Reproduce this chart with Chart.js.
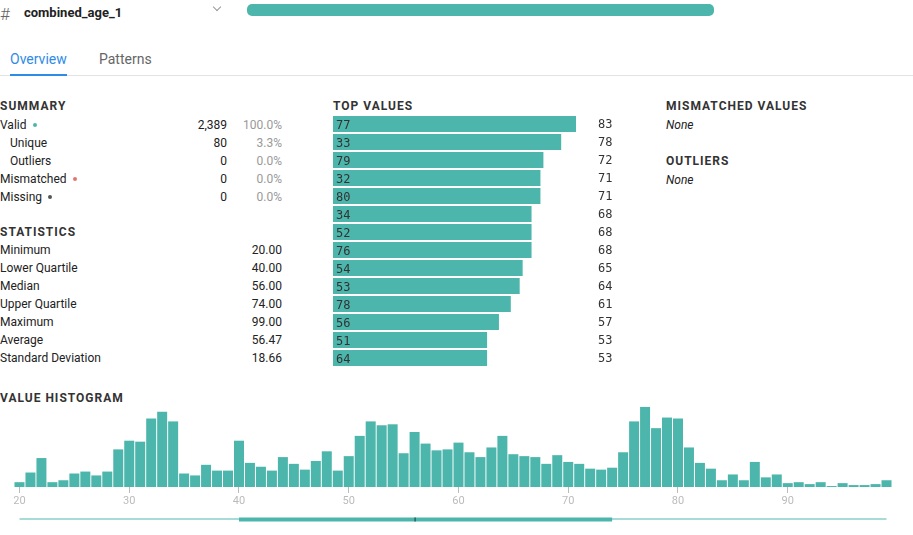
<!DOCTYPE html>
<html><head><meta charset="utf-8">
<script src="https://cdn.jsdelivr.net/npm/chart.js@4.4.0/dist/chart.umd.min.js"></script>
<style>
body{margin:0;width:913px;height:535px;overflow:hidden;background:#fff;font-family:Roboto,sans-serif;color:#222;position:relative}
.a{position:absolute;white-space:nowrap;line-height:18px;font-size:12px}
.h{font-weight:bold;letter-spacing:1px;color:#333}
.r{text-align:right}
.g{color:#999}
.dot{display:inline-block;width:4px;height:4px;border-radius:50%;margin-left:6px;vertical-align:middle;position:relative;top:-1px}
canvas{display:block}
</style>
</head><body>
<div id="root"></div>
<div style="position:absolute;left:333px;top:115px;width:290px;height:252px"><canvas id="top"></canvas></div>
<div style="position:absolute;left:14px;top:400px;width:878px;height:132px"><canvas id="hist"></canvas></div>
<script>
// ---- data ----
const columnName = 'combined_age_1';
const tabs = ['Overview', 'Patterns'];
const summaryLabels = ['Valid', 'Unique', 'Outliers', 'Mismatched', 'Missing'];
const summaryCounts = [2389, 80, 0, 0, 0];
const summaryPercents = ['100.0%', '3.3%', '0.0%', '0.0%', '0.0%'];
const statLabels = ['Minimum', 'Lower Quartile', 'Median', 'Upper Quartile', 'Maximum', 'Average', 'Standard Deviation'];
const statValues = [20.00, 40.00, 56.00, 74.00, 99.00, 56.47, 18.66];
const topValueLabels = ['77', '33', '79', '32', '80', '34', '52', '76', '54', '53', '78', '56', '51', '64'];
const topValueCounts = [83, 78, 72, 71, 71, 68, 68, 68, 65, 64, 61, 57, 53, 53];
const histValues = [20,21,22,23,24,25,26,27,28,29,30,31,32,33,34,35,36,37,38,39,40,41,42,43,44,45,46,47,48,49,50,51,52,53,54,55,56,57,58,59,60,61,62,63,64,65,66,67,68,69,70,71,72,73,74,75,76,77,78,79,80,81,82,83,84,85,86,87,88,89,90,91,92,93,94,95,96,97,98,99];
const histCounts = [5,15,30,5,7,14,16,12,16,39, 48,47,71,78,68,14,12,23,17,17, 48,25,21,17,31,24,18,27,37,17, 32,53,68,64,65,35,57,45,38,39, 46,36,31,41,53,34,32,31,24,33, 26,24,19,18,20,36,68,83,61,72, 71,41,25,19,7,13,7,26,10,13, 4,5,3,5,1,4,2,2,3,7];
const histTickLabels = ['20','30','40','50','60','70','80','90'];

const TEAL = '#4db6ac';
const root = document.getElementById('root');
function el(html, style, cls) {
  const d = document.createElement('div');
  d.className = 'a ' + (cls || '');
  d.innerHTML = html;
  Object.assign(d.style, style);
  root.appendChild(d);
  return d;
}
// header
el('#', {left:'0px', top:'4px', fontSize:'17px', color:'#666', fontWeight:'300', lineHeight:'20px'});
el(columnName, {left:'24px', top:'4px', fontSize:'13px', fontWeight:'bold', color:'#222'});
el('', {left:'214px', top:'4px', width:'5px', height:'5px', borderRight:'1.2px solid #999', borderBottom:'1.2px solid #999', transform:'rotate(45deg)'});
el('', {left:'247px', top:'4px', width:'467px', height:'12px', borderRadius:'5px', background:TEAL});
// tabs
el(tabs[0], {left:'10px', top:'49px', fontSize:'14px', lineHeight:'20px', color:'#2e8be6'});
el(tabs[1], {left:'99px', top:'49px', fontSize:'14px', lineHeight:'20px', color:'#666'});
el('', {left:'0px', top:'75px', width:'913px', height:'1px', background:'#e2e2e2'});
el('', {left:'10px', top:'74px', width:'57px', height:'2px', background:'#2e8be6'});
// summary
el('SUMMARY', {left:'0px', top:'97px'}, 'h');
const dotColors = {Valid:TEAL, Mismatched:'#e57373', Missing:'#555'};
summaryLabels.forEach((lab, i) => {
  const y = 116 + i * 18;
  const indent = (lab === 'Unique' || lab === 'Outliers') ? 10 : 0;
  const dot = dotColors[lab] ? '<span class="dot" style="background:' + dotColors[lab] + '"></span>' : '';
  el(lab + dot, {left: indent + 'px', top: y + 'px'});
  el(summaryCounts[i].toLocaleString('en-US'), {left:'150px', width:'77px', top: y + 'px'}, 'r');
  el(summaryPercents[i], {left:'230px', width:'52px', top: y + 'px'}, 'r g');
});
el('STATISTICS', {left:'0px', top:'223px'}, 'h');
statLabels.forEach((lab, i) => {
  const y = 241 + i * 18;
  el(lab, {left:'0px', top: y + 'px'});
  el(statValues[i].toFixed(2), {left:'200px', width:'82px', top: y + 'px'}, 'r');
});
el('TOP VALUES', {left:'333px', top:'97px'}, 'h');
el('MISMATCHED VALUES', {left:'666px', top:'97px'}, 'h');
el('None', {left:'666px', top:'116px', fontStyle:'italic'});
el('OUTLIERS', {left:'666px', top:'152px'}, 'h');
el('None', {left:'666px', top:'171px', fontStyle:'italic'});
el('VALUE HISTOGRAM', {left:'0px', top:'389px'}, 'h');

// top values chart
const topLabelPlugin = {
  id: 'topLabels',
  afterDatasetsDraw(chart) {
    const ctx = chart.ctx;
    const meta = chart.getDatasetMeta(0);
    const area = chart.chartArea;
    ctx.save();
    ctx.font = '12px "DejaVu Sans Mono", monospace';
    ctx.fillStyle = '#333';
    ctx.textBaseline = 'middle';
    meta.data.forEach((bar, i) => {
      ctx.textAlign = 'left';
      ctx.fillText(topValueLabels[i], area.left + 3, bar.y + 2);
      ctx.fillText(String(topValueCounts[i]), area.left + 265, bar.y + 1);
    });
    ctx.restore();
  }
};
new Chart(document.getElementById('top'), {
  type: 'bar',
  data: { labels: topValueLabels, datasets: [{ data: topValueCounts, backgroundColor: TEAL, categoryPercentage: 16/18, barPercentage: 1 }] },
  options: {
    indexAxis: 'y', responsive: true, maintainAspectRatio: false, animation: false,
    layout: { padding: { left: 0, right: 47, top: 0, bottom: 0 } },
    plugins: { legend: { display: false }, tooltip: { enabled: false } },
    scales: {
      x: { display: false, min: 1, max: Math.max(...topValueCounts) },
      y: { display: false }
    }
  },
  plugins: [topLabelPlugin]
});

// histogram
const sliderPlugin = {
  id: 'slider',
  afterDraw(chart) {
    const ctx = chart.ctx;
    const xs = chart.scales.x;
    const y0 = chart.chartArea.bottom + 31;
    const px = v => xs.getPixelForValue(histValues.indexOf(v));
    const minP = px(statValues[0]), q1 = px(statValues[1]), med = px(statValues[2]), q3 = px(statValues[3]), maxP = px(statValues[4]);
    ctx.save();
    ctx.fillStyle = '#a7dcd6';
    ctx.fillRect(minP, y0, maxP - minP, 2);
    ctx.fillStyle = TEAL;
    ctx.fillRect(q1, y0 - 0.5, q3 - q1, 4);
    ctx.fillStyle = '#1f4f4a';
    ctx.fillRect(Math.round(med) - 0.5, y0 - 0.5, 1.2, 4);
    ctx.restore();
  }
};
new Chart(document.getElementById('hist'), {
  type: 'bar',
  data: { labels: histValues.map(String), datasets: [{ data: histCounts, backgroundColor: TEAL, categoryPercentage: 1, barPercentage: 10/10.975 }] },
  options: {
    responsive: true, maintainAspectRatio: false, animation: false,
    layout: { padding: { left: 0, right: 0, top: 5, bottom: 0 } },
    plugins: { legend: { display: false }, tooltip: { enabled: false } },
    scales: {
      x: {
        afterFit(s) { s.height = 45; s.paddingLeft = 0; s.paddingRight = 0; },
        border: { display: false },
        grid: { offset: false, drawOnChartArea: false, drawTicks: true, tickLength: 6, color: '#bbb', lineWidth: 1 },
        ticks: { autoSkip: false, maxRotation: 0, padding: 2, color: '#bbb', font: { family: 'Roboto', size: 11 },
          callback: (v, i) => histTickLabels.includes(String(histValues[i])) ? String(histValues[i]) : null }
      },
      y: { display: false, min: 0, max: 85 }
    }
  },
  plugins: [sliderPlugin]
});
</script>
</body></html>
